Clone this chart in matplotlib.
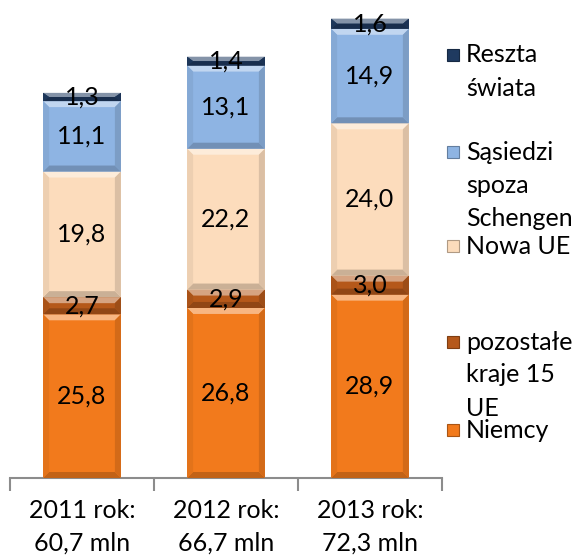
import numpy as np
import matplotlib
matplotlib.use("Agg")
from matplotlib import pyplot as plt
from matplotlib.patches import Polygon, Rectangle
from matplotlib.colors import to_rgb

plt.rcParams['font.family'] = ['Lato', 'DejaVu Sans']

years = ['2011 rok:\n60,7 mln', '2012 rok:\n66,7 mln', '2013 rok:\n72,3 mln']
series = ['Niemcy', 'pozostałe kraje 15 UE', 'Nowa UE', 'Sąsiedzi spoza Schengen', 'Reszta świata']
niemcy = [25.8, 26.8, 28.9]
pozostale = [2.7, 2.9, 3.0]
nowa_ue = [19.8, 22.2, 24.0]
sasiedzi = [11.1, 13.1, 14.9]
reszta = [1.3, 1.4, 1.6]
values = [niemcy, pozostale, nowa_ue, sasiedzi, reszta]
colors = ['#F27A1C', '#B5581A', '#FCDCBC', '#8EB4E3', '#1F3A60']
legend_lines = [['Reszta', 'świata'], ['Sąsiedzi', 'spoza', 'Schengen'], ['Nowa UE'],
                ['pozostałe', 'kraje 15', 'UE'], ['Niemcy']]
legend_colors = colors[::-1]
legend_y = [55, 152, 246, 342, 430]

W, H = 582, 559
fig = plt.figure(figsize=(W / 100, H / 100), dpi=100)
ax = fig.add_axes([10 / W, 1 - 478 / H, 432 / W, 460 / H])
ax.set_xlim(-0.5, 2.5)
ax.set_ylim(0, 72.5)

px_x = 3.0 / 432
px_y = 72.5 / 460


def mix(c, other, t):
    c = np.array(to_rgb(c))
    return tuple(c * (1 - t) + np.array(other) * t)


def bevel(x0, x1, y0, y1, c, axes, size=6):
    dx = size * px_x
    dy = min(size * px_y, (y1 - y0) / 2)
    pieces = [
        ([(x0, y1), (x1, y1), (x1 - dx, y1 - dy), (x0 + dx, y1 - dy)], mix(c, (1, 1, 1), 0.45)),
        ([(x0, y0), (x1, y0), (x1 - dx, y0 + dy), (x0 + dx, y0 + dy)], mix(c, (0, 0, 0), 0.2)),
        ([(x0, y0), (x0, y1), (x0 + dx, y1 - dy), (x0 + dx, y0 + dy)], mix(c, (0, 0, 0), 0.06)),
        ([(x1, y0), (x1, y1), (x1 - dx, y1 - dy), (x1 - dx, y0 + dy)], mix(c, (0, 0, 0), 0.13)),
    ]
    for pts, col in pieces:
        axes.add_patch(Polygon(pts, closed=True, facecolor=col, edgecolor='none', zorder=3))


x = np.arange(len(years))
bottom = np.zeros(len(years))
for vals, c in zip(values, colors):
    bars = ax.bar(x, vals, 0.54, bottom=bottom, color=c, edgecolor='none', zorder=2)
    for b in bars:
        bevel(b.get_x(), b.get_x() + b.get_width(), b.get_y(), b.get_y() + b.get_height(), c, ax)
    ax.bar_label(bars, labels=[f"{v:.1f}".replace('.', ',') for v in vals],
                 label_type='center', fontsize=18, color='black', zorder=5)
    bottom += np.array(vals)

for s in ['top', 'right', 'left']:
    ax.spines[s].set_visible(False)
ax.spines['bottom'].set_color('#8C8C8C')
ax.spines['bottom'].set_linewidth(1.5)
ax.set_yticks([])
ax.set_xticks([-0.5, 0.5, 1.5, 2.5])
ax.set_xticklabels([])
ax.tick_params(axis='x', which='major', length=9, width=1.5, color='#8C8C8C')
ax.set_xticks(x, minor=True)
ax.set_xticklabels(years, minor=True, fontsize=18, linespacing=1.5)
ax.tick_params(axis='x', which='minor', length=0, pad=15)

for lines, c, y0 in zip(legend_lines, legend_colors, legend_y):
    sq = 12
    fig.patches.append(Rectangle((447 / W, 1 - (y0 + sq / 2) / H), sq / W, sq / H,
                                 transform=fig.transFigure, facecolor=c,
                                 edgecolor=mix(c, (0, 0, 0), 0.3), lw=0.8))
    for k, line in enumerate(lines):
        fig.text(466 / W, 1 - (y0 + k * 33) / H, line, fontsize=18, va='center', ha='left')

fig.savefig('out.png', dpi=100)
